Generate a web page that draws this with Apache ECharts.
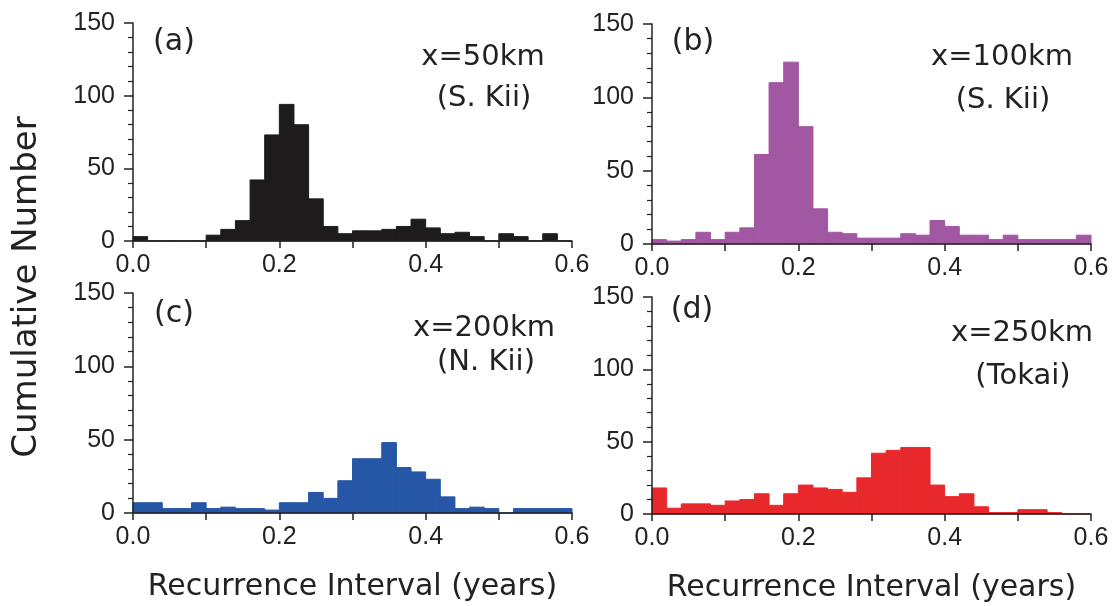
<!DOCTYPE html>
<html>
<head>
<meta charset="utf-8">
<script src="https://cdn.jsdelivr.net/npm/echarts@6/dist/echarts.min.js"></script>
<style>html,body{margin:0;padding:0;background:#fff;}#c{width:1118px;height:606px;}</style>
</head>
<body>
<div id="c"></div>
<script>
// Histogram bins (left edges, years) and bin width
const binStart = [0.00,0.02,0.04,0.06,0.08,0.10,0.12,0.14,0.16,0.18,
                  0.20,0.22,0.24,0.26,0.28,0.30,0.32,0.34,0.36,0.38,
                  0.40,0.42,0.44,0.46,0.48,0.50,0.52,0.54,0.56,0.58];
const binWidth = 0.02;

// Counts per bin
const countsA = [3,0,0,0,0,4,8,14,42,73,94,80,29,10,5,7,7,8,10,15,9,5,6,3,0,5,3,0,5,0];
const countsB = [3,2,3,8,3,8,11,61,110,124,80,24,8,7,4,4,4,7,6,16,12,6,6,3,6,3,3,3,3,6];
const countsC = [7,7,3,3,7,3,4,3,3,2,7,7,14,10,22,37,37,48,31,28,23,11,3,4,3,0,3,3,3,3];
const countsD = [18,4,7,7,6,9,10,14,6,14,20,18,17,15,25,42,44,46,46,20,12,14,5,1,1,3,3,1,0,0];

// Tick values
const xTicks = [0.0, 0.2, 0.4, 0.6];
const yTicks = [0, 50, 100, 150];

// Panel texts
const panelLabels = ['(a)', '(b)', '(c)', '(d)'];
const panelLine1 = ['x=50km', 'x=100km', 'x=200km', 'x=250km'];
const panelLine2 = ['(S. Kii)', '(S. Kii)', '(N. Kii)', '(Tokai)'];
const xTitle = 'Recurrence Interval (years)';
const yTitle = 'Cumulative Number';

const colors = ['#1e1b1c', '#a157a2', '#2656a6', '#e8292c'];
const allCounts = [countsA, countsB, countsC, countsD];

const grids = [
  {left: 133, width: 439, top: 23, height: 218},
  {left: 652, width: 439, top: 24, height: 220},
  {left: 133, width: 439, top: 293, height: 220},
  {left: 652, width: 439, top: 297, height: 217}
];

const axisColor = '#222';
const tickFont = {fontFamily: 'Liberation Sans', fontSize: 25, color: '#222'};

const xAxes = grids.map((g, i) => ({
  gridIndex: i, type: 'value', min: 0, max: 0.6, interval: 0.1, z: 5,
  axisLine: {show: true, onZero: false, lineStyle: {color: axisColor, width: 1.5}},
  axisTick: {show: true, inside: false, length: 7, lineStyle: {color: axisColor, width: 1.5}},
  splitLine: {show: false},
  axisLabel: Object.assign({
    margin: 12,
    showMinLabel: true, showMaxLabel: true,
    formatter: v => {
      const hit = xTicks.find(t => Math.abs(t - v) < 1e-6);
      return hit === undefined ? '' : hit.toFixed(1);
    }
  }, tickFont),
  name: (i >= 2) ? xTitle : '',
  nameLocation: 'middle',
  nameGap: 59,
  nameTextStyle: {fontFamily: 'DejaVu Sans', fontSize: 30, color: '#222'}
}));

const yAxes = grids.map((g, i) => ({
  gridIndex: i, type: 'value', min: 0, max: 150, interval: 50, z: 5,
  axisLine: {show: true, onZero: false, lineStyle: {color: axisColor, width: 1.5}},
  axisTick: {show: true, inside: false, length: 9, lineStyle: {color: axisColor, width: 1.5}},
  minorTick: {show: true, splitNumber: 5, length: 5, lineStyle: {color: axisColor, width: 1.2}},
  splitLine: {show: false},
  minorSplitLine: {show: false},
  axisLabel: Object.assign({
    margin: 18,
    formatter: v => (yTicks.indexOf(v) >= 0 ? String(v) : '')
  }, tickFont)
}));

function renderItem(params, api) {
  const x0 = api.value(0), x1 = api.value(1), y = api.value(2);
  const p0 = api.coord([x0, y]);
  const p1 = api.coord([x1, 0]);
  return {
    type: 'rect',
    shape: {x: p0[0], y: p0[1], width: p1[0] - p0[0], height: p1[1] - p0[1]},
    style: {fill: api.visual('color'), stroke: api.visual('color'), lineWidth: 1}
  };
}

const series = allCounts.map((counts, i) => ({
  type: 'custom',
  xAxisIndex: i, yAxisIndex: i,
  itemStyle: {color: colors[i]},
  renderItem: renderItem,
  encode: {x: [0, 1], y: 2},
  data: binStart.map((s, k) => [s, +(s + binWidth).toFixed(4), counts[k]])
}));

// Text placement (centres, px)
const labelPos = [[174, 42], [693, 42], [174, 314], [692, 310]];
const line1Pos = [[483, 57], [1002, 57], [484, 328], [1022, 333]];
const line2Pos = [[484, 98], [1003, 100], [486, 362], [1023, 376]];

const graphic = [];
for (let i = 0; i < 4; i++) {
  graphic.push({type: 'text', x: labelPos[i][0], y: labelPos[i][1], z: 10,
    style: {text: panelLabels[i], fontFamily: 'DejaVu Sans', fontSize: 30, fill: '#222', align: 'center', verticalAlign: 'middle'}});
  graphic.push({type: 'text', x: line1Pos[i][0], y: line1Pos[i][1], z: 10,
    style: {text: panelLine1[i], fontFamily: 'DejaVu Sans', fontSize: 29, fill: '#222', align: 'center', verticalAlign: 'middle'}});
  graphic.push({type: 'text', x: line2Pos[i][0], y: line2Pos[i][1], z: 10,
    style: {text: panelLine2[i], fontFamily: 'DejaVu Sans', fontSize: 29, fill: '#222', align: 'center', verticalAlign: 'middle'}});
}
graphic.push({type: 'text', x: 27, y: 287, rotation: Math.PI / 2, z: 10,
  style: {text: yTitle, fontFamily: 'DejaVu Sans', fontSize: 34, fill: '#222', align: 'center', verticalAlign: 'middle'}});

const chart = echarts.init(document.getElementById('c'), null, {renderer: 'canvas'});
chart.setOption({
  animation: false,
  backgroundColor: '#fff',
  grid: grids.map(g => Object.assign({containLabel: false}, g)),
  xAxis: xAxes,
  yAxis: yAxes,
  series: series,
  graphic: graphic
});
</script>
</body>
</html>
